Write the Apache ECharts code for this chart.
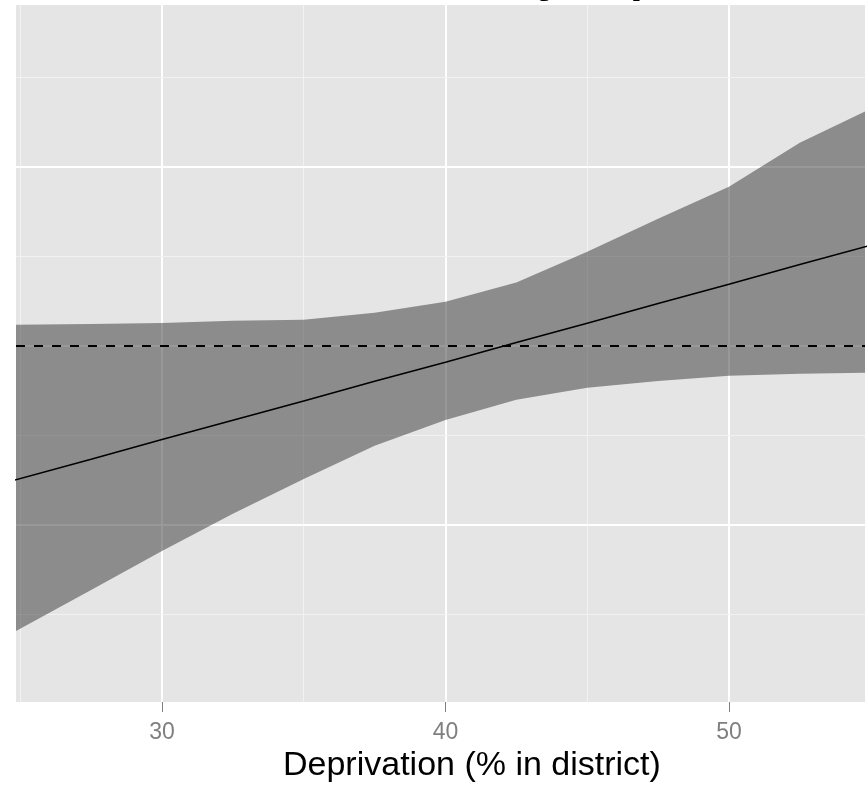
<!DOCTYPE html>
<html>
<head>
<meta charset="utf-8">
<script src="https://cdn.jsdelivr.net/npm/echarts@6/dist/echarts.min.js"></script>
<style>
html,body{margin:0;padding:0;background:#fff;}
#chart{width:868px;height:806px;}
</style>
</head>
<body>
<div id="chart"></div>
<script>
// Data
var deprivation = [24.8, 27.5, 30, 32.5, 35, 37.5, 40, 42.5, 45, 47.5, 50, 52.5, 55];
var fitted      = [0.625, 0.683, 0.738, 0.792, 0.846, 0.901, 0.954, 1.009, 1.063, 1.118, 1.172, 1.227, 1.281];
var upperCI     = [1.059, 1.061, 1.064, 1.070, 1.073, 1.092, 1.123, 1.177, 1.263, 1.355, 1.444, 1.567, 1.662];
var lowerCI     = [0.201, 0.318, 0.427, 0.531, 0.628, 0.721, 0.793, 0.849, 0.883, 0.902, 0.916, 0.922, 0.925];
var referenceLevel = 1;
var xTickLabels = [30, 40, 50];
var xMinorGrid = [25, 35, 45];
var yMajorGrid = [0.5, 1.0, 1.5];
var yMinorGrid = [0.25, 0.75, 1.25, 1.75];
var titleText = 'Relative risk by deprivation';
var xAxisTitle = 'Deprivation (% in district)';

var fitData = deprivation.map(function (x, i) { return [x, fitted[i]]; });

var gridLines = [];
xTickLabels.forEach(function (v) { gridLines.push({ xAxis: v, lineStyle: { color: '#ffffff', width: 2, type: 'solid' } }); });
xMinorGrid.forEach(function (v) { gridLines.push({ xAxis: v, lineStyle: { color: '#f2f2f2', width: 1, type: 'solid' } }); });
yMajorGrid.forEach(function (v) { gridLines.push({ yAxis: v, lineStyle: { color: '#ffffff', width: 2, type: 'solid' } }); });
yMinorGrid.forEach(function (v) { gridLines.push({ yAxis: v, lineStyle: { color: '#f2f2f2', width: 1, type: 'solid' } }); });

function renderBand(params, api) {
  var pts = [];
  for (var i = 0; i < deprivation.length; i++) pts.push(api.coord([deprivation[i], upperCI[i]]));
  for (var j = deprivation.length - 1; j >= 0; j--) pts.push(api.coord([deprivation[j], lowerCI[j]]));
  return {
    type: 'polygon',
    shape: { points: pts },
    style: { fill: 'rgba(51,51,51,0.5)', stroke: null }
  };
}

var chart = echarts.init(document.getElementById('chart'), null, { renderer: 'canvas' });
chart.setOption({
  animation: false,
  backgroundColor: '#ffffff',
  grid: { left: 16, right: 3, top: 5, bottom: 104, show: true, backgroundColor: '#e5e5e5', borderWidth: 0 },
  xAxis: {
    type: 'value', min: 24.85, max: 54.8,
    axisLine: { show: false },
    axisTick: { show: true, length: 10, lineStyle: { color: '#7f7f7f', width: 1 }, customValues: xTickLabels },
    axisLabel: { show: true, customValues: xTickLabels, margin: 19, color: '#7f7f7f', fontSize: 23, fontFamily: 'Liberation Sans' },
    splitLine: { show: false }
  },
  yAxis: {
    type: 'value', min: 0.005, max: 1.952,
    axisLine: { show: false }, axisTick: { show: false }, axisLabel: { show: false }, splitLine: { show: false }
  },
  graphic: [
    { type: 'text', left: 472 - 189, top: 749, z: 10,
      style: { text: xAxisTitle, font: "34px 'Liberation Sans'", fill: '#000000' } },
    { type: 'text', x: 226, y: -21.5, z: 10,
      style: { text: titleText, font: "bold 46px 'Liberation Sans'", fill: '#000000', textVerticalAlign: 'middle' } }
  ],
  series: [
    { type: 'line', data: [], z: 0, silent: true,
      markLine: { silent: true, symbol: ['none', 'none'], label: { show: false }, animation: false, z: 0, data: gridLines } },
    { type: 'custom', data: [[deprivation[0], lowerCI[0]]], renderItem: renderBand, clip: true, z: 5, silent: true },
    { type: 'line', data: fitData, symbol: 'none', z: 6, silent: true,
      lineStyle: { color: '#000000', width: 1.5 },
      markLine: { silent: true, symbol: ['none', 'none'], label: { show: false }, animation: false, z: 7,
        data: [{ yAxis: referenceLevel }], lineStyle: { color: '#000000', width: 2, type: [9, 9] } } }
  ]
});
</script>
</body>
</html>
